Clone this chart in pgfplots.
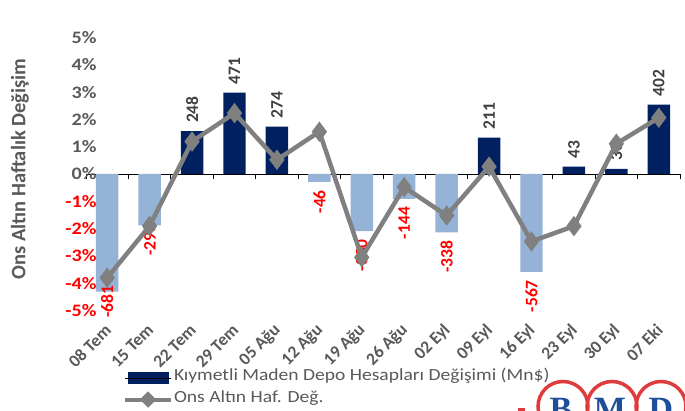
\documentclass[border=0pt]{standalone}
\usepackage{fontspec}
\setmainfont{Carlito}
\newfontfamily\wfont{Carlito}[FakeStretch=1.15]
\newfontfamily\logofont{Liberation Serif}
\usepackage{pgfplots}
\pgfplotsset{compat=1.18}
\usepackage{pgfplotstable}
\definecolor{navy}{HTML}{002060}
\definecolor{lblue}{HTML}{95B3D7}
\definecolor{lgray}{HTML}{808080}
\definecolor{tgray}{HTML}{595959}
\definecolor{lblgray}{HTML}{404040}
\definecolor{logored}{HTML}{DE3C3C}
\definecolor{logoblue}{HTML}{1F4E9A}

\pgfplotstableread{
x y lbl dy
2 248 248 0
3 471 471 0
4 274 274 0
9 211 211 0
11 43 43 0
12 30 30 0
13 402 402 0
}\barpos
\pgfplotstableread{
x y lbl dy
0 -681 -681 14
1 -298 -298 10
5 -46 -46 0
6 -330 -330 0
7 -144 -144 0
8 -338 -338 0
10 -567 -567 0
}\barneg
\pgfplotstableread{
x y
0 -3.80
1 -1.90
2 1.19
3 2.23
4 0.52
5 1.55
6 -3.05
7 -0.48
8 -1.52
9 0.27
10 -2.47
11 -1.91
12 1.11
13 2.06
}\gold

\pgfplotsset{base/.style={width=594pt,height=273pt,scale only axis,
  xmin=-0.5,xmax=13.5,at={(0,0)},anchor=south west,clip=false}}

\begin{document}
\begin{tikzpicture}
\useasboundingbox (-86pt,-99.5pt) rectangle (599pt,310.5pt);
% bars (secondary scale, hidden)
\begin{axis}[base,
  ymin=-790,ymax=790,
  ybar, bar width=0.53, bar shift=0pt,
  axis x line=middle, axis y line=none,
  axis line style={-,black,line width=0.9pt},
  xtick={-0.5,0.5,...,13.5}, xticklabels={},
  tick align=outside, major tick length=5pt,
  x tick style={black,line width=0.9pt},
  ytick=\empty,
  point meta=explicit symbolic,
]
\addplot[fill=navy,draw=none,
  nodes near coords,
  visualization depends on={\thisrow{dy} \as \dy},
  nodes near coords style={yshift=\dy pt,rotate=90,anchor=west,inner xsep=8pt,inner ysep=0pt,
    font=\fontsize{17.5}{17.5}\selectfont\bfseries,text=lblgray}]
  table[x=x,y=y,meta=lbl]{\barpos};
\addplot[fill=lblue,draw=none,
  nodes near coords,
  visualization depends on={\thisrow{dy} \as \dy},
  nodes near coords style={yshift=\dy pt,rotate=90,anchor=east,inner xsep=8pt,inner ysep=0pt,
    font=\fontsize{17.5}{17.5}\selectfont\bfseries,text=red}]
  table[x=x,y=y,meta=lbl]{\barneg};
\end{axis}
% line (primary scale)
\begin{axis}[base,
  ymin=-5,ymax=5,
  axis line style={draw=none},
  major tick length=0pt,
  ytick={-5,...,5},
  yticklabels={\textcolor{red}{-5\%},\textcolor{red}{-4\%},\textcolor{red}{-3\%},\textcolor{red}{-2\%},\textcolor{red}{-1\%},0\%,1\%,2\%,3\%,4\%,5\%},
  yticklabel style={font=\wfont\fontsize{17.5}{17.5}\selectfont\bfseries,text=tgray,xshift=14pt},
  xtick={0,...,13},
  xticklabels={08 Tem,15 Tem,22 Tem,29 Tem,05 Ağu,12 Ağu,19 Ağu,26 Ağu,02 Eyl,09 Eyl,16 Eyl,23 Eyl,30 Eyl,07 Eki},
  xticklabel style={xshift=1pt,yshift=-17pt,rotate=45,anchor=east,inner sep=0pt,
    font=\fontsize{17.5}{17.5}\selectfont\bfseries,text=tgray},
  ylabel={Ons Altın Haftalık Değişim},
  ylabel style={at={(axis description cs:-0.1111,0.518)},anchor=center,
    font=\fontsize{20.5}{20.5}\selectfont\bfseries,text=tgray},
  legend style={at={(axis description cs:0.062,-0.226)},anchor=north west,
    draw=none,fill=none,inner sep=0pt,row sep=8.5pt,
    font=\wfont\fontsize{17}{17}\selectfont,text=tgray,
    nodes={inner sep=0pt,text height=0.75em,text depth=0.25em},
    /tikz/every odd column/.append style={column sep=1pt}},
  legend cell align=left,
]
\addlegendimage{legend image code/.code={\fill[navy] (3pt,-5.5pt) rectangle (43pt,5.5pt); \path (0pt,0pt) -- (46pt,0pt);}}
\addlegendentry{Kıymetli Maden Depo Hesapları Değişimi (Mn\$)}
\addplot[lgray,line width=4.5pt,mark=diamond*,mark size=6.5pt,
  mark options={fill=lgray,draw=none},
  legend image code/.code={\draw[lgray,line width=4pt] (0pt,0pt) -- (46pt,0pt);
    \fill[lgray] (23pt,5pt) -- (28pt,0pt) -- (23pt,-5pt) -- (18pt,0pt) -- cycle;}]
  table[x=x,y=y]{\gold};
\addlegendentry{Ons Altın Haf. Değ.}
\end{axis}
% logo fragment (bottom right, cut off)
\draw[logored,line width=3.5pt] (477pt,-96pt) circle (25pt);
\draw[logored,line width=3.5pt] (526pt,-96pt) circle (25pt);
\draw[logored,line width=3.5pt] (575pt,-96pt) circle (25pt);
\draw[logored,line width=3pt] (432pt,-98.5pt) -- (439pt,-98.5pt);
\node[anchor=base,text=logoblue,font=\logofont\bfseries\fontsize{34}{34}\selectfont,inner sep=0pt] at (475pt,-110pt) {B};
\node[anchor=base,text=logoblue,font=\logofont\bfseries\fontsize{34}{34}\selectfont,inner sep=0pt] at (524pt,-110pt) {M};
\node[anchor=base,text=logoblue,font=\logofont\bfseries\fontsize{34}{34}\selectfont,inner sep=0pt] at (575pt,-110pt) {D};
\end{tikzpicture}
\end{document}
